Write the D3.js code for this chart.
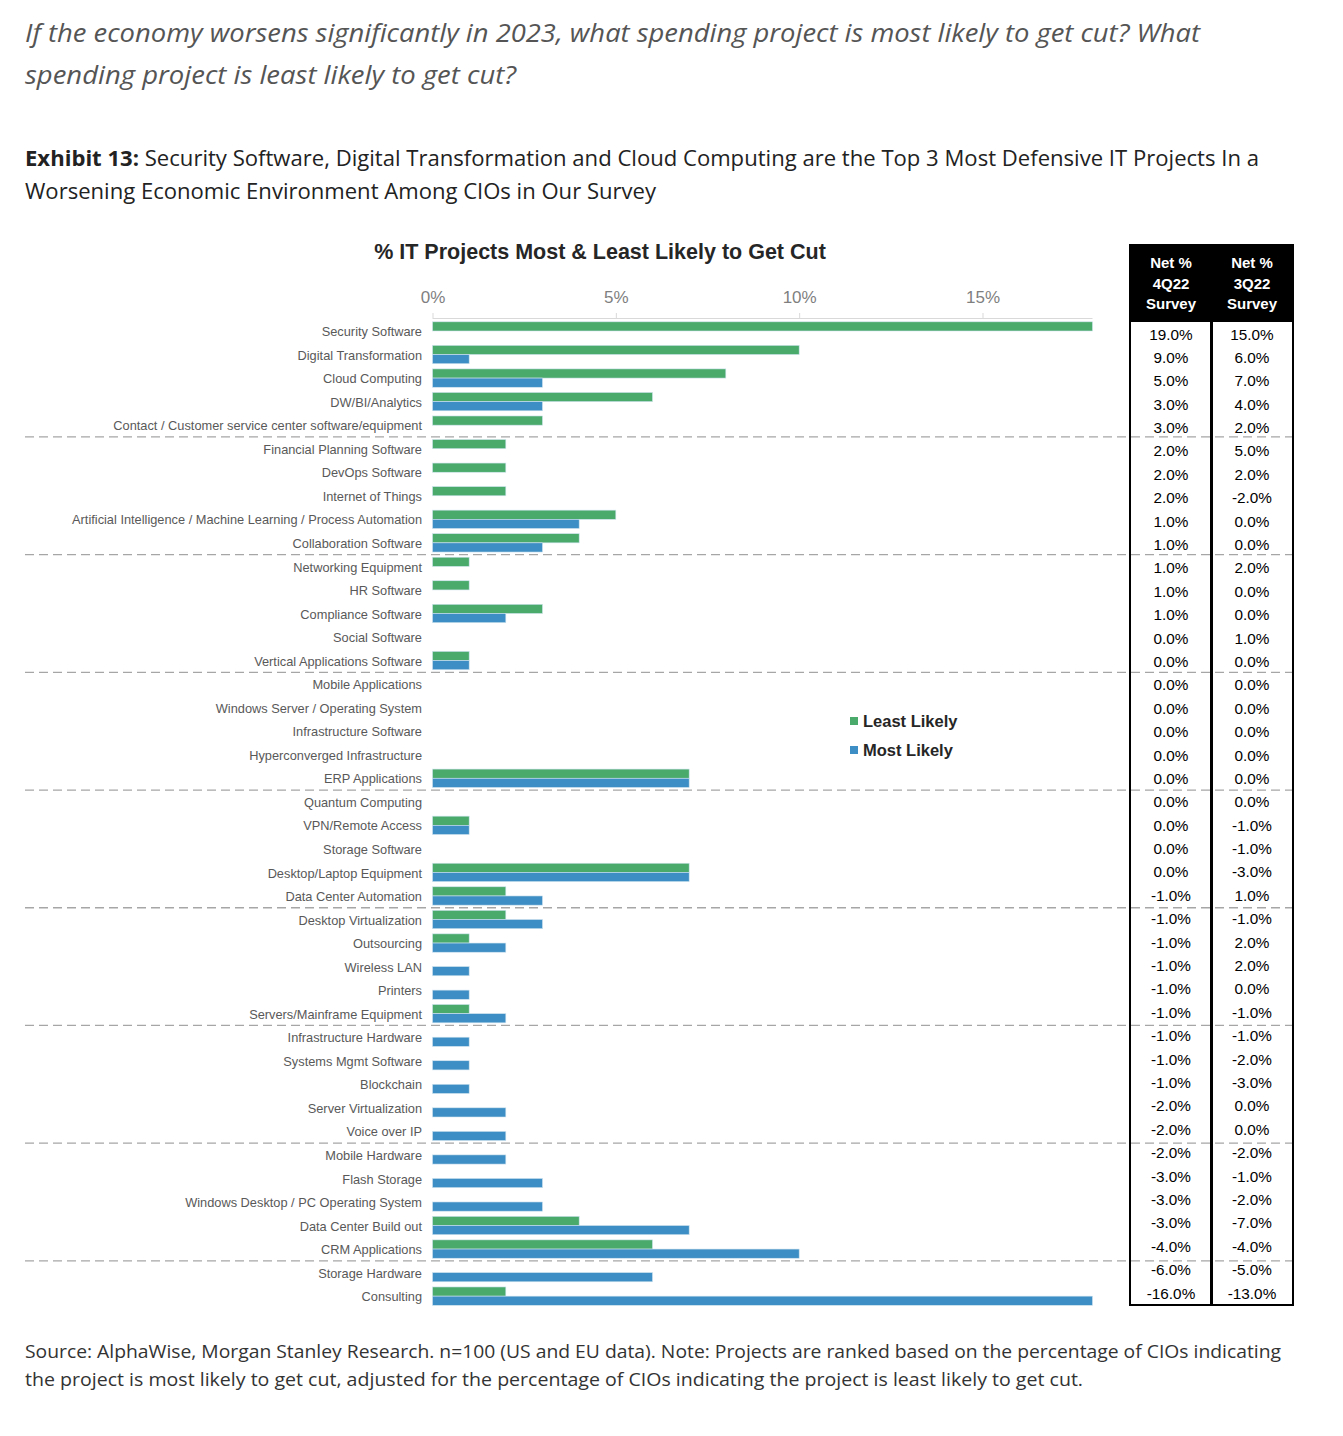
<!DOCTYPE html>
<html><head><meta charset="utf-8">
<script src="https://cdn.jsdelivr.net/npm/d3@7"></script>
<style>body{margin:0;background:#fff}svg{display:block}</style>
</head><body>
<svg id="c" width="1343" height="1436"></svg>
<script>
const categories = ["Security Software","Digital Transformation","Cloud Computing","DW/BI/Analytics","Contact / Customer service center software/equipment","Financial Planning Software","DevOps Software","Internet of Things","Artificial Intelligence / Machine Learning / Process Automation","Collaboration Software","Networking Equipment","HR Software","Compliance Software","Social Software","Vertical Applications Software","Mobile Applications","Windows Server / Operating System","Infrastructure Software","Hyperconverged Infrastructure","ERP Applications","Quantum Computing","VPN/Remote Access","Storage Software","Desktop/Laptop Equipment","Data Center Automation","Desktop Virtualization","Outsourcing","Wireless LAN","Printers","Servers/Mainframe Equipment","Infrastructure Hardware","Systems Mgmt Software","Blockchain","Server Virtualization","Voice over IP","Mobile Hardware","Flash Storage","Windows Desktop / PC Operating System","Data Center Build out","CRM Applications","Storage Hardware","Consulting"];
const leastLikely = [18,10,8,6,3,2,2,2,5,4,1,1,3,0,1,0,0,0,0,7,0,1,0,7,2,2,1,0,0,1,0,0,0,0,0,0,0,0,4,6,0,2];
const mostLikely  = [0,1,3,3,0,0,0,0,4,3,0,0,2,0,1,0,0,0,0,7,0,1,0,7,3,3,2,1,1,2,1,1,1,2,2,2,3,3,7,10,6,18];
const net4Q22 = ["19.0%","9.0%","5.0%","3.0%","3.0%","2.0%","2.0%","2.0%","1.0%","1.0%","1.0%","1.0%","1.0%","0.0%","0.0%","0.0%","0.0%","0.0%","0.0%","0.0%","0.0%","0.0%","0.0%","0.0%","-1.0%","-1.0%","-1.0%","-1.0%","-1.0%","-1.0%","-1.0%","-1.0%","-1.0%","-2.0%","-2.0%","-2.0%","-3.0%","-3.0%","-3.0%","-4.0%","-6.0%","-16.0%"];
const net3Q22 = ["15.0%","6.0%","7.0%","4.0%","2.0%","5.0%","2.0%","-2.0%","0.0%","0.0%","2.0%","0.0%","0.0%","1.0%","0.0%","0.0%","0.0%","0.0%","0.0%","0.0%","0.0%","-1.0%","-1.0%","-3.0%","1.0%","-1.0%","2.0%","2.0%","0.0%","-1.0%","-1.0%","-2.0%","-3.0%","0.0%","0.0%","-2.0%","-1.0%","-2.0%","-7.0%","-4.0%","-5.0%","-13.0%"];
const xTicks = [0,5,10,15];
const groupBreaks = [5,10,15,20,25,30,35,40];
const seriesNames = ["Least Likely","Most Likely"];
const colors = ["#4aaa6b","#3d8ec4"];

const svg = d3.select("#c");
const F = "Arial, 'Liberation Sans', sans-serif";

// Header texts
const q = svg.append("g").attr("font-family","'Open Sans', sans-serif").attr("font-style","italic").attr("fill","#555").attr("font-size",25);
q.append("text").attr("x",25).attr("y",42).attr("textLength",1175).attr("lengthAdjust","spacingAndGlyphs").text("If the economy worsens significantly in 2023, what spending project is most likely to get cut? What");
q.append("text").attr("x",25).attr("y",84).attr("textLength",491).attr("lengthAdjust","spacingAndGlyphs").text("spending project is least likely to get cut?");

const ex = svg.append("g").attr("font-family","'Open Sans', sans-serif").attr("fill","#222").attr("font-size",21);
const t1 = ex.append("text").attr("x",25).attr("y",166).attr("textLength",1234).attr("lengthAdjust","spacingAndGlyphs");
t1.append("tspan").attr("font-weight","bold").text("Exhibit 13:");
t1.append("tspan").text(" Security Software, Digital Transformation and Cloud Computing are the Top 3 Most Defensive IT Projects In a");
ex.append("text").attr("x",25).attr("y",199).attr("textLength",631).attr("lengthAdjust","spacingAndGlyphs").text("Worsening Economic Environment Among CIOs in Our Survey");

const src = svg.append("g").attr("font-family","'Open Sans', sans-serif").attr("fill","#333").attr("font-size",18);
src.append("text").attr("x",25).attr("y",1358).attr("textLength",1256).attr("lengthAdjust","spacingAndGlyphs").text("Source: AlphaWise, Morgan Stanley Research. n=100 (US and EU data). Note: Projects are ranked based on the percentage of CIOs indicating");
src.append("text").attr("x",25).attr("y",1386).attr("textLength",1058).attr("lengthAdjust","spacingAndGlyphs").text("the project is most likely to get cut, adjusted for the percentage of CIOs indicating the project is least likely to get cut.");

// Chart title
svg.append("text").attr("x",600).attr("y",259).attr("text-anchor","middle").attr("font-family",F).attr("font-weight","bold").attr("font-size",21.5).attr("fill","#262626").text("% IT Projects Most & Least Likely to Get Cut");

// scales
const x = d3.scaleLinear().domain([0,18]).range([432.5,1092.5]);
const step = 23.54;
const y = d3.scaleBand().domain(categories).range([331 - step/2, 331 - step/2 + step*categories.length]).paddingInner(0.22).paddingOuter(0.11);
const ySub = d3.scaleBand().domain(seriesNames).range([0,y.bandwidth()]);

// axis
const ax = svg.append("g").attr("transform","translate(0,318)").call(d3.axisTop(x).tickValues(xTicks).tickSize(5).tickFormat(d=>d+"%"));
ax.select(".domain").attr("stroke","#d9d9d9");
ax.selectAll(".tick line").attr("stroke","#d9d9d9");
ax.selectAll(".tick text").attr("font-family",F).attr("font-size",17).attr("fill","#7f7f7f").attr("dy","-0.4em");
ax.select(".domain").attr("d","M432.5,0.5H1092.5");

// category labels
const ya = svg.append("g").attr("transform","translate(432,0)").call(d3.axisLeft(y).tickSize(0).tickPadding(10));
ya.select(".domain").remove();
ya.selectAll(".tick text").attr("font-family",F).attr("font-size",12.8).attr("fill","#595959").attr("dy","0.4em");

// bars
const rows = categories.map((c,i)=>({c, vals:[leastLikely[i], mostLikely[i]]}));
const g = svg.append("g");
rows.forEach(r=>{
  r.vals.forEach((v,j)=>{
    if (v<=0) return;
    g.append("rect").attr("x",x(0)).attr("y",y(r.c)+ySub(seriesNames[j])).attr("width",x(v)-x(0)).attr("height",ySub.bandwidth())
      .attr("fill",colors[j]).attr("stroke","#cfe3ef").attr("stroke-width",0.6);
  });
});

// table
const tx0=1130, tx1=1293, tmid=1211.5, ty0=245, th=322, ty1=1305;
const tb = svg.append("g");
tb.append("rect").attr("x",tx0).attr("y",ty0).attr("width",tx1-tx0).attr("height",th-ty0).attr("fill","#000");
tb.append("rect").attr("x",tx0).attr("y",ty0).attr("width",tx1-tx0).attr("height",ty1-ty0).attr("fill","none").attr("stroke","#000").attr("stroke-width",2);
tb.append("line").attr("x1",tmid).attr("x2",tmid).attr("y1",ty0).attr("y2",ty1).attr("stroke","#000").attr("stroke-width",3);
const hdr = [["Net %","4Q22","Survey"],["Net %","3Q22","Survey"]];
hdr.forEach((lines,k)=>{
  lines.forEach((l,i)=>{
    tb.append("text").attr("x",k?1252:1171).attr("y",268+i*20.5).attr("text-anchor","middle").attr("font-family",F).attr("font-weight","bold").attr("font-size",15).attr("fill","#fff").text(l);
  });
});
const ty = d3.scalePoint().domain(categories).range([334,1293]);
categories.forEach((c,i)=>{
  tb.append("text").attr("x",1171).attr("y",ty(c)+5.5).attr("text-anchor","middle").attr("font-family",F).attr("font-size",15.3).attr("fill","#000").text(net4Q22[i]);
  tb.append("text").attr("x",1252).attr("y",ty(c)+5.5).attr("text-anchor","middle").attr("font-family",F).attr("font-size",15.3).attr("fill","#000").text(net3Q22[i]);
});

// dashed separators
groupBreaks.forEach(b=>{
  const yy = (y(categories[b-1]) + y.bandwidth() + y(categories[b]))/2;
  svg.append("line").attr("x1",25).attr("x2",1292).attr("y1",yy).attr("y2",yy).attr("stroke","#a6a6a6").attr("stroke-width",1.3).attr("stroke-dasharray","9,5");
});

// legend
seriesNames.forEach((s,i)=>{
  const ly = 727 + i*29;
  svg.append("rect").attr("x",850).attr("y",ly-10).attr("width",8).attr("height",8).attr("fill",colors[i]);
  svg.append("text").attr("x",863).attr("y",ly).attr("font-family",F).attr("font-weight","bold").attr("font-size",16.5).attr("fill","#262626").text(s);
});
</script>
</body></html>
